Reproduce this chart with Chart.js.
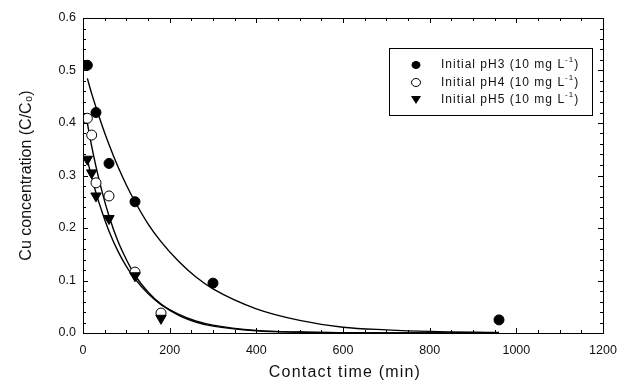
<!DOCTYPE html>
<html>
<head>
<meta charset="utf-8">
<script src="https://cdn.jsdelivr.net/npm/chart.js@4.4.1/dist/chart.umd.min.js"></script>
<style>
  body { margin: 0; background: #fff; }
  #wrap { width: 633px; height: 385px; }
</style>
</head>
<body>
<div id="wrap"><canvas id="myChart" width="633" height="385"></canvas></div>
<script>
  // measured points
  const timePH3 = [10, 30, 60, 120, 300, 960];
  const concPH3 = [0.51, 0.42, 0.323, 0.25, 0.095, 0.025];
  const timePH4 = [10, 20, 30, 60, 120, 180];
  const concPH4 = [0.409, 0.377, 0.286, 0.261, 0.116, 0.038];
  const timePH5 = [10, 20, 30, 60, 120, 180];
  const concPH5 = [0.331, 0.305, 0.261, 0.218, 0.109, 0.028];

  // fitted curves
  const fitTime = [10, 20, 30, 45, 60, 80, 100, 120, 150, 180, 220, 260, 300, 400, 500, 600, 700, 800, 960];
  const fitPH3 = [0.485, 0.456, 0.43, 0.393, 0.359, 0.318, 0.282, 0.25, 0.208, 0.174, 0.137, 0.107, 0.084, 0.046, 0.024, 0.011, 0.006, 0.003, 0.001];
  const fitPH4 = [0.40, 0.356, 0.317, 0.266, 0.223, 0.176, 0.14, 0.11, 0.078, 0.055, 0.034, 0.021, 0.013, 0.004, 0.0013, 0.0004, 0.0001, 0, 0];
  const fitPH5 = [0.33, 0.297, 0.267, 0.228, 0.194, 0.157, 0.127, 0.103, 0.075, 0.054, 0.036, 0.023, 0.015, 0.005, 0.0018, 0.0006, 0.0002, 0.0001, 0];

  const xTicks = [0, 200, 400, 600, 800, 1000, 1200];
  const yTicks = [0, 0.1, 0.2, 0.3, 0.4, 0.5, 0.6];

  const legendLabels = ['Initial pH3 (10 mg L', 'Initial pH4 (10 mg L', 'Initial pH5 (10 mg L'];
  const xTitle = 'Contact time (min)';

  const FONT = "'Liberation Sans', Arial, sans-serif";

  const toXY = (xs, ys) => xs.map((x, i) => ({ x: x, y: ys[i] }));

  const lineStyle = {
    showLine: true,
    pointRadius: 0,
    borderColor: '#000',
    borderWidth: 1.4,
    cubicInterpolationMode: 'monotone',
    order: 5,
  };

  // frame, inward ticks, x title and legend
  const framePlugin = {
    id: 'frame',
    afterDraw(chart) {
      const ctx = chart.ctx;
      const a = chart.chartArea;
      const xs = chart.scales.x;
      const ys = chart.scales.y;
      ctx.save();
      ctx.strokeStyle = '#000';
      ctx.lineWidth = 1;
      ctx.strokeRect(Math.round(a.left) + 0.5, Math.round(a.top) + 0.5, Math.round(a.right - a.left), Math.round(a.bottom - a.top));

      ctx.beginPath();
      for (let v = 0; v <= 1200; v += 50) {
        const len = v % 200 === 0 ? 5 : 3;
        const px = Math.round(xs.getPixelForValue(v)) + 0.5;
        ctx.moveTo(px, a.bottom); ctx.lineTo(px, a.bottom - len);
        ctx.moveTo(px, a.top); ctx.lineTo(px, a.top + len);
      }
      for (let i = 0; i <= 30; i++) {
        const v = i * 0.02;
        const len = i % 5 === 0 ? 5 : 3;
        const py = Math.round(ys.getPixelForValue(v)) + 0.5;
        ctx.moveTo(a.left, py); ctx.lineTo(a.left + len, py);
        ctx.moveTo(a.right, py); ctx.lineTo(a.right - len, py);
      }
      ctx.stroke();

      // x axis title, spaced out like the original
      ctx.fillStyle = '#111';
      ctx.textAlign = 'center';
      ctx.textBaseline = 'middle';
      ctx.letterSpacing = '1.2px';
      ctx.font = '16px ' + FONT;
      ctx.fillText(xTitle, (a.left + a.right) / 2 + 2, 373);

      // legend box
      ctx.strokeRect(389.5, 48.5, 203, 67);
      const rows = [65, 82.5, 100];
      const mx = 416;
      rows.forEach((y, i) => {
        ctx.beginPath();
        ctx.lineWidth = 1;
        if (i === 0) {
          ctx.ellipse(mx, y, 4.5, 4, 0, 0, Math.PI * 2);
          ctx.fillStyle = '#000';
          ctx.fill();
        } else if (i === 1) {
          ctx.ellipse(mx, y, 4.5, 4, 0, 0, Math.PI * 2);
          ctx.fillStyle = '#fff';
          ctx.fill();
          ctx.stroke();
        } else {
          ctx.moveTo(mx - 5, y - 4);
          ctx.lineTo(mx + 5, y - 4);
          ctx.lineTo(mx, y + 4);
          ctx.closePath();
          ctx.fillStyle = '#000';
          ctx.fill();
        }
        ctx.fillStyle = '#111';
        ctx.textBaseline = 'middle';
        ctx.textAlign = 'left';
        ctx.letterSpacing = '1px';
        ctx.font = '12px ' + FONT;
        let tx = 441;
        ctx.fillText(legendLabels[i], tx, y);
        tx += ctx.measureText(legendLabels[i]).width;
        ctx.font = '8px ' + FONT;
        ctx.fillText('-1', tx, y - 5);
        tx += ctx.measureText('-1').width;
        ctx.font = '12px ' + FONT;
        ctx.fillText(')', tx, y);
      });
      ctx.restore();
    },
  };

  const ctx = document.getElementById('myChart');

  new Chart(ctx, {
    type: 'scatter',
    data: {
      datasets: [
        { label: 'pH3 fit', data: toXY(fitTime, fitPH3), ...lineStyle },
        { label: 'pH4 fit', data: toXY(fitTime, fitPH4), ...lineStyle },
        { label: 'pH5 fit', data: toXY(fitTime, fitPH5), ...lineStyle },
        {
          label: legendLabels[0] + '-1)',
          data: toXY(timePH3, concPH3),
          pointStyle: 'circle',
          pointRadius: 5,
          backgroundColor: '#000',
          borderColor: '#000',
          borderWidth: 1,
          order: 2,
        },
        {
          label: legendLabels[1] + '-1)',
          data: toXY(timePH4, concPH4),
          pointStyle: 'circle',
          pointRadius: 5,
          backgroundColor: '#fff',
          borderColor: '#000',
          borderWidth: 1,
          order: 1,
        },
        {
          label: legendLabels[2] + '-1)',
          data: toXY(timePH5, concPH5),
          pointStyle: 'triangle',
          pointRotation: 180,
          pointRadius: 6,
          backgroundColor: '#000',
          borderColor: '#000',
          borderWidth: 1,
          order: 0,
        },
      ],
    },
    options: {
      responsive: false,
      animation: false,
      layout: { padding: { top: 18, right: 30, left: 0, bottom: 0 } },
      plugins: {
        legend: { display: false },
        tooltip: { enabled: false },
      },
      scales: {
        x: {
          type: 'linear',
          min: 0,
          max: 1200,
          afterBuildTicks: (scale) => { scale.ticks = xTicks.map((v) => ({ value: v })); },
          afterFit: (scale) => { scale.height = 52; },
          grid: { display: false, drawTicks: false },
          border: { display: false },
          ticks: {
            color: '#111',
            padding: 10,
            maxRotation: 0,
            font: { family: FONT, size: 12.5 },
            callback: (v) => String(v),
          },
        },
        y: {
          type: 'linear',
          min: 0,
          max: 0.6,
          afterBuildTicks: (scale) => { scale.ticks = yTicks.map((v) => ({ value: v })); },
          afterFit: (scale) => { scale.width = 83; },
          grid: { display: false, drawTicks: false },
          border: { display: false },
          ticks: {
            color: '#111',
            padding: 7,
            font: { family: FONT, size: 12.5 },
            callback: (v) => v.toFixed(1),
          },
          title: {
            display: true,
            text: 'Cu concentration (C/C₀)',
            color: '#111',
            font: { family: FONT, size: 16 },
            padding: { top: 17, bottom: 0 },
          },
        },
      },
    },
    plugins: [framePlugin],
  });
</script>
</body>
</html>
